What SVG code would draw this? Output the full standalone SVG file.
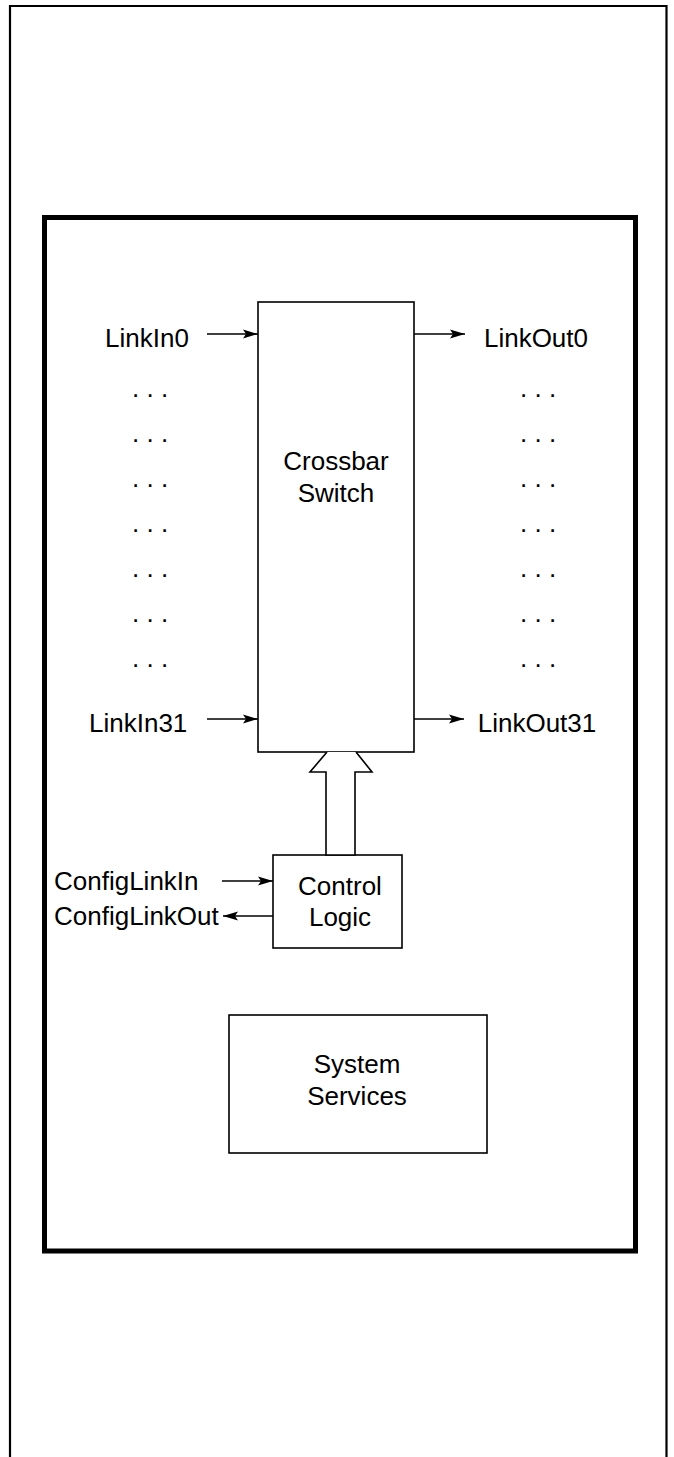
<svg xmlns="http://www.w3.org/2000/svg" width="674" height="1457" viewBox="0 0 674 1457">
  <style>
    .box { fill: #fff; stroke: #000; stroke-width: 1.6; }
    .wire { fill: none; stroke: #000; stroke-width: 1.5; }
    .lbl { font-family: "Liberation Sans", Arial, sans-serif; font-size: 26px; fill: #000; }
    .mid { text-anchor: middle; }
  </style>
  <defs>
    <marker id="arrow" markerWidth="16" markerHeight="12" refX="15" refY="6" orient="auto" markerUnits="userSpaceOnUse">
      <path d="M0,1.5 L15,6 L0,10.5 L3,6 Z" fill="#000"/>
    </marker>
  </defs>
  <rect width="674" height="1457" fill="#fff"/>

  <!-- page frame, open at the bottom -->
  <path d="M10,1457 V6 H666.5 V1457" fill="none" stroke="#000" stroke-width="2.2"/>

  <!-- switch enclosure -->
  <rect id="enclosure" x="44.5" y="217.5" width="591" height="1033.5" fill="none" stroke="#000" stroke-width="5"/>

  <g id="crossbar">
    <rect class="box" x="258" y="302" width="156" height="450"/>
    <text class="lbl mid" x="336" y="470">Crossbar</text>
    <text class="lbl mid" x="336" y="502">Switch</text>
  </g>

  <g id="control">
    <rect class="box" x="273" y="855" width="129" height="93"/>
    <text class="lbl mid" x="340" y="895">Control</text>
    <text class="lbl mid" x="340" y="926">Logic</text>
  </g>

  <g id="services">
    <rect class="box" x="229" y="1015" width="258" height="138"/>
    <text class="lbl mid" x="357" y="1073">System</text>
    <text class="lbl mid" x="357" y="1105">Services</text>
  </g>

  <g id="ports">
    <text class="lbl" x="105" y="347">LinkIn0</text>
    <text class="lbl" x="89" y="732">LinkIn31</text>
    <text class="lbl mid" x="536" y="347">LinkOut0</text>
    <text class="lbl mid" x="537" y="732">LinkOut31</text>
    <text class="lbl" x="54" y="890">ConfigLinkIn</text>
    <text class="lbl" x="54" y="925">ConfigLinkOut</text>
    <g class="lbl">
      <text x="132" y="397">. . .</text>
      <text x="132" y="442">. . .</text>
      <text x="132" y="487">. . .</text>
      <text x="132" y="532">. . .</text>
      <text x="132" y="577">. . .</text>
      <text x="132" y="622">. . .</text>
      <text x="132" y="667">. . .</text>
      <text x="520" y="397">. . .</text>
      <text x="520" y="442">. . .</text>
      <text x="520" y="487">. . .</text>
      <text x="520" y="532">. . .</text>
      <text x="520" y="577">. . .</text>
      <text x="520" y="622">. . .</text>
      <text x="520" y="667">. . .</text>
    </g>
  </g>

  <g id="connectors">
    <line class="wire" x1="207" y1="334" x2="258" y2="334" marker-end="url(#arrow)"/>
    <line class="wire" x1="207" y1="719" x2="258" y2="719" marker-end="url(#arrow)"/>
    <line class="wire" x1="414" y1="334" x2="465" y2="334" marker-end="url(#arrow)"/>
    <line class="wire" x1="414" y1="719" x2="464" y2="719" marker-end="url(#arrow)"/>
    <line class="wire" x1="222" y1="881" x2="273" y2="881" marker-end="url(#arrow)"/>
    <line class="wire" x1="273" y1="916" x2="223" y2="916" marker-end="url(#arrow)"/>
    <!-- wide bus arrow from control logic up into the crossbar -->
    <polyline fill="#fff" stroke="#000" stroke-width="1.6" points="327,752 310,772 326,772 326,855 355,855 355,772 372,772 356,752"/>
  </g>
</svg>
